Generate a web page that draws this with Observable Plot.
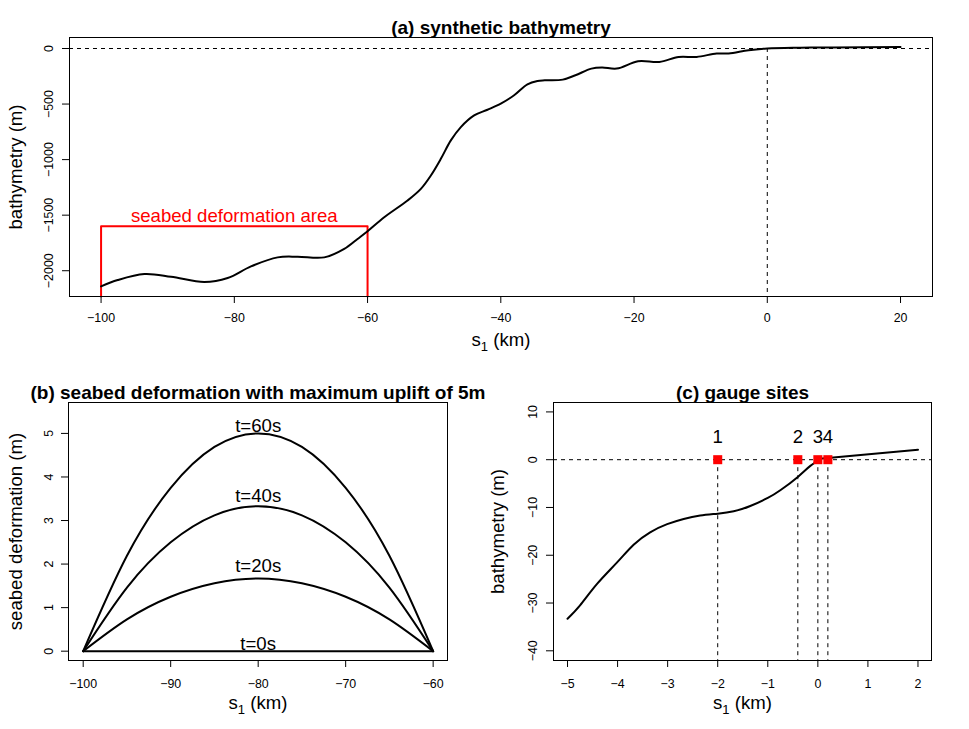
<!DOCTYPE html>
<html><head><meta charset="utf-8">
<script src="https://cdn.jsdelivr.net/npm/d3@7"></script>
<script src="https://cdn.jsdelivr.net/npm/@observablehq/plot@0.6"></script>
<style>
body{margin:0;background:#fff;}
#wrap{position:relative;width:969px;height:729px;background:#fff;overflow:hidden;}
#wrap svg{position:absolute;overflow:visible;background:none;}
</style></head><body><div id="wrap"></div>
<script>
// ---------- Panel (a): synthetic bathymetry ----------
const bathyKm = [-100, -97.5, -93.5, -89.5, -84.5, -81, -77.5, -73.5, -70.5, -66.5, -63.5, -61.5, -60, -57.5, -54, -52, -50.5, -49, -47.5, -46, -44, -42, -40, -38, -36, -34.5, -33.4, -30.7, -28.8, -26.4, -24.8, -22.6, -19.4, -16.2, -13.3, -10.6, -7.6, -5.8, -2.8, 0, 5, 10, 20];
const bathyM  = [-2141, -2084, -2030, -2054, -2102, -2066, -1961, -1880, -1874, -1880, -1804, -1714, -1645, -1519, -1368, -1263, -1143, -993, -827, -707, -602, -551, -496, -421, -322, -292, -286, -280, -241, -181, -171, -181, -115, -121, -76, -76, -45, -45, -15, 0, 7, 10, 14];
const deformAreaKm = [-100, -60];
const deformAreaTop = -1600;
const deformAreaLabel = "seabed deformation area";
const deformAreaLabelY = -1560;
const aXTicks = [-100, -80, -60, -40, -20, 0, 20];
const aYTicks = [0, -500, -1000, -1500, -2000];

// ---------- Panel (b): seabed deformation ----------
const defKm = [-100, -95, -90, -85, -80, -75, -70, -65, -60];
const def0  = [0, 0, 0, 0, 0, 0, 0, 0, 0];
const def20 = [0, 0.73, 1.25, 1.56, 1.67, 1.56, 1.25, 0.73, 0];
const def40 = [0, 1.46, 2.50, 3.12, 3.33, 3.12, 2.50, 1.46, 0];
const def60 = [0, 2.19, 3.75, 4.69, 5.00, 4.69, 3.75, 2.19, 0];
const defLabels = ["t=0s", "t=20s", "t=40s", "t=60s"];
const defLabelY = [0.03, 1.81, 3.42, 5.04];
const bXTicks = [-100, -90, -80, -70, -60];
const bYTicks = [0, 1, 2, 3, 4, 5];

// ---------- Panel (c): gauge sites ----------
const nearKm = [-5, -4.75, -4.41, -4.01, -3.68, -3.35, -3.01, -2.68, -2.35, -2.0, -1.68, -1.35, -1.0, -0.75, -0.4, -0.15, 0, 0.2, 2];
const nearM  = [-33.3, -30.5, -26.0, -21.5, -17.8, -15.2, -13.5, -12.4, -11.7, -11.3, -10.8, -9.7, -8.0, -6.4, -3.6, -1.3, 0, 0.35, 2.1];
const gaugeKm = [-2, -0.4, 0, 0.2];
const gaugeZ = [0, 0, 0, 0];
const gaugeNames = ["1", "2", "3", "4"];
const gaugeLabelY = 3.5;
const cXTicks = [-5, -4, -3, -2, -1, 0, 1, 2];
const cYTicks = [10, 0, -10, -20, -30, -40];

const FONT = '"Liberation Sans", Arial, Helvetica, sans-serif';
const TICK = "12.4px", LAB = 18.6, TITLE = 19;
const fmt = d => d < 0 ? "\u2212" + (-d) : String(d);
const wrap = document.getElementById("wrap");
function place(svg, left, top) {
  svg.style.left = left + "px"; svg.style.top = top + "px";
  wrap.appendChild(svg);
  d3.select(svg).selectAll("text").filter(function () { return this.textContent === "s1 (km)"; })
    .each(function () {
      const t = d3.select(this); t.text(null);
      t.append("tspan").text("s");
      t.append("tspan").attr("font-size", "13px").attr("dy", "5").text("1");
      t.append("tspan").attr("dy", "-5").text(" (km)");
    });
}
const baseStyle = {fontFamily: FONT, fontSize: TICK, background: "none", overflow: "visible", color: "black"};
const yLab = (t, dx) => Plot.text([t], {frameAnchor: "left", textAnchor: "middle", dx, rotate: -90, fontSize: LAB});
const xLab = (dy) => Plot.text(["s1 (km)"], {frameAnchor: "bottom", textAnchor: "middle", dy, fontSize: LAB});
const title = (t) => Plot.text([t], {frameAnchor: "top", textAnchor: "middle", dy: -17, fontSize: TITLE, fontWeight: "bold"});

// Panel (a)
const aTable = bathyKm.map((k, i) => ({km: k, m: bathyM[i]}));
const aY = [-2232, 99];
const areaPath = [
  {km: deformAreaKm[0], m: aY[0]}, {km: deformAreaKm[0], m: deformAreaTop},
  {km: deformAreaKm[1], m: deformAreaTop}, {km: deformAreaKm[1], m: aY[0]}
];
const plotA = Plot.plot({
  width: 969, height: 360, marginLeft: 69, marginRight: 37, marginTop: 37, marginBottom: 64,
  style: baseStyle,
  x: {domain: [-104.74, 24.8]},
  y: {domain: aY},
  marks: [
    Plot.ruleY([0], {stroke: "black", strokeWidth: 1, strokeDasharray: "4,4"}),
    Plot.ruleX([0], {y1: 0, y2: aY[0], stroke: "black", strokeWidth: 1, strokeDasharray: "4,4"}),
    Plot.line(areaPath, {x: "km", y: "m", stroke: "red", strokeWidth: 2}),
    Plot.text([{x: (deformAreaKm[0] + deformAreaKm[1]) / 2, y: deformAreaLabelY, t: deformAreaLabel}],
      {x: "x", y: "y", text: "t", fill: "red", fontSize: LAB, lineAnchor: "bottom"}),
    Plot.line(aTable, {x: "km", y: "m", stroke: "black", strokeWidth: 2, curve: "catmull-rom"}),
    Plot.frame({stroke: "black", strokeWidth: 1}),
    Plot.axisX({ticks: aXTicks, tickFormat: fmt, tickSize: 7, tickPadding: 10, label: null}),
    Plot.axisY({ticks: aYTicks, tickFormat: fmt, tickSize: 7, tickPadding: 10, tickRotate: -90, label: null}),
    title("(a) synthetic bathymetry"),
    yLab("bathymetry (m)", -53),
    xLab(49)
  ]
});

// Panel (b)
const bTable = [];
[def0, def20, def40, def60].forEach((arr, j) => defKm.forEach((k, i) => bTable.push({km: k, z: arr[i], t: defLabels[j]})));
const bLabels = defLabels.map((l, i) => ({km: -80, z: defLabelY[i], l}));
const plotB = Plot.plot({
  width: 484, height: 369, marginLeft: 68, marginRight: 37, marginTop: 42, marginBottom: 69,
  style: baseStyle,
  x: {domain: [-101.68, -58.36]},
  y: {domain: [-0.214, 5.71]},
  marks: [
    Plot.line(bTable, {x: "km", y: "z", z: "t", stroke: "black", strokeWidth: 2, curve: "natural"}),
    Plot.text(bLabels, {x: "km", y: "z", text: "l", fontSize: LAB, lineAnchor: "bottom"}),
    Plot.frame({stroke: "black", strokeWidth: 1}),
    Plot.axisX({ticks: bXTicks, tickFormat: fmt, tickSize: 7, tickPadding: 12, label: null}),
    Plot.axisY({ticks: bYTicks, tickFormat: fmt, tickSize: 7, tickPadding: 9, tickRotate: -90, label: null}),
    title("(b) seabed deformation with maximum uplift of 5m"),
    yLab("seabed deformation (m)", -52.6),
    xLab(48)
  ]
});

// Panel (c)
const cTable = nearKm.map((k, i) => ({km: k, m: nearM[i]}));
const gauges = gaugeKm.map((k, i) => ({km: k, z: gaugeZ[i], name: gaugeNames[i], ly: gaugeLabelY}));
const cY = [-42.03, 11.97];
const plotC = Plot.plot({
  width: 485, height: 369, marginLeft: 69, marginRight: 38, marginTop: 42, marginBottom: 69,
  style: baseStyle,
  x: {domain: [-5.28, 2.27]},
  y: {domain: cY},
  marks: [
    Plot.ruleY([0], {stroke: "black", strokeWidth: 1, strokeDasharray: "4,4"}),
    Plot.ruleX(gauges, {x: "km", y1: "z", y2: cY[0], stroke: "black", strokeWidth: 1, strokeDasharray: "4,4"}),
    Plot.line(cTable, {x: "km", y: "m", stroke: "black", strokeWidth: 2, curve: "natural"}),
    Plot.dot(gauges, {x: "km", y: "z", symbol: "square", r: 5.1, fill: "red", stroke: "none"}),
    Plot.text(gauges, {x: "km", y: "ly", text: "name", fontSize: LAB, lineAnchor: "bottom"}),
    Plot.frame({stroke: "black", strokeWidth: 1}),
    Plot.axisX({ticks: cXTicks, tickFormat: fmt, tickSize: 7, tickPadding: 12, label: null}),
    Plot.axisY({ticks: cYTicks, tickFormat: fmt, tickSize: 7, tickPadding: 10, tickRotate: -90, label: null}),
    title("(c) gauge sites"),
    yLab("bathymetry (m)", -55),
    xLab(48)
  ]
});

place(plotA, 0, 0);
place(plotC, 484, 360);
place(plotB, 0, 360);
</script></body></html>
